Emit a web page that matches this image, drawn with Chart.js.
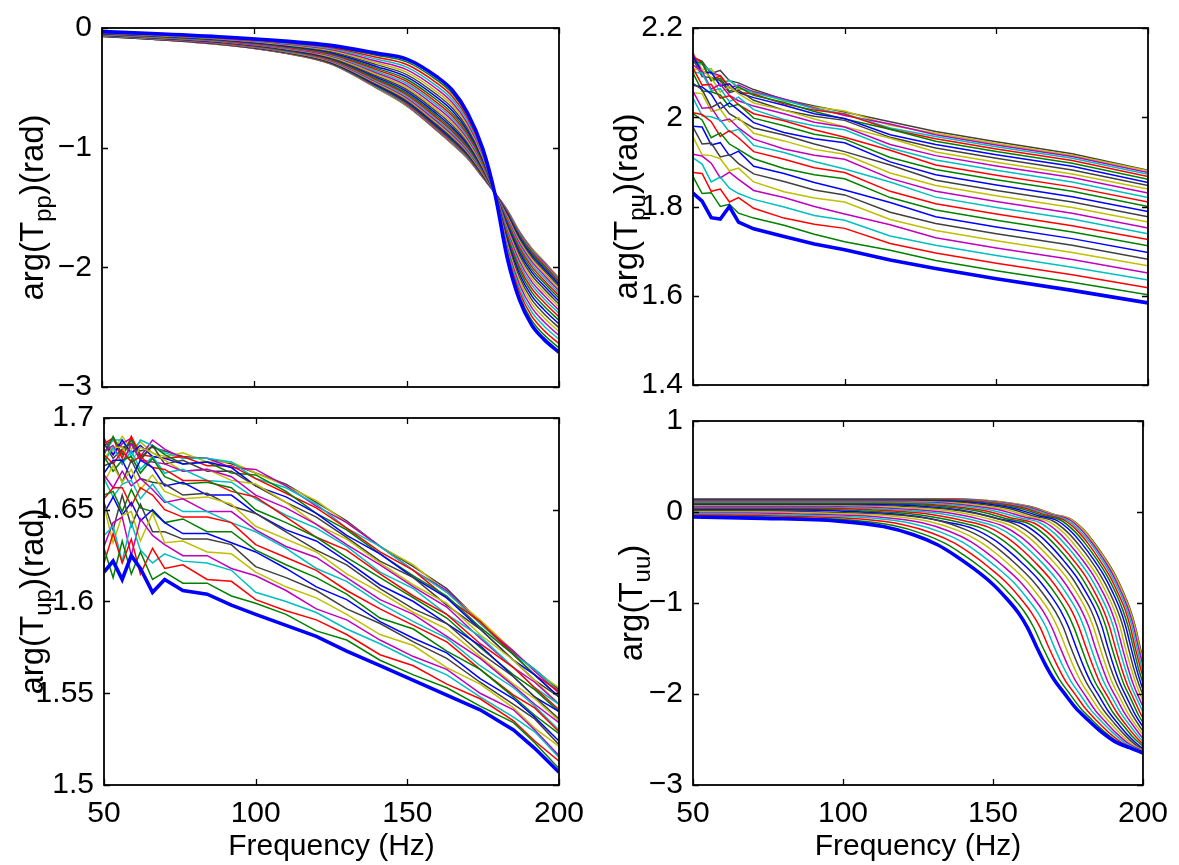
<!DOCTYPE html>
<html><head><meta charset="utf-8">
<script src="https://cdn.jsdelivr.net/npm/chart.js@4.4.1/dist/chart.umd.min.js"></script>
<style>
html,body{margin:0;padding:0;background:#fff;}
#wrap{position:relative;width:1179px;height:865px;overflow:hidden;background:#fff;}
canvas{position:absolute;left:0;top:0;}
</style></head><body>
<div id="wrap">
<canvas id="cTL" width="1179" height="865"></canvas>
<canvas id="cTR" width="1179" height="865"></canvas>
<canvas id="cBL" width="1179" height="865"></canvas>
<canvas id="cBR" width="1179" height="865"></canvas>
</div>
<script>
const lineColors = ['#0000FF','#008000','#FF0000','#00BFBF','#BF00BF','#BFBF00','#404040'];
const xTicks = [50,100,150,200];
const yTicksTpp = [-3,-2,-1,0];
const yTicksTpu = [1.4,1.6,1.8,2,2.2];
const yTicksTup = [1.5,1.55,1.6,1.65,1.7];
const yTicksTuu = [-3,-2,-1,0,1];

// ---- arg(T_pp) ----
const freqTpp = [50,70,90,110,125,140,150,160,165,170,175,179,183,187,191,195,200];
const argTpp = [
[-.030,-.050,-.075,-.110,-.145,-.210,-.260,-.410,-.520,-.710,-1.010,-1.390,-1.920,-2.270,-2.480,-2.600,-2.710],
[-.032,-.053,-.079,-.116,-.154,-.227,-.283,-.437,-.547,-.732,-1.024,-1.389,-1.896,-2.236,-2.442,-2.562,-2.673],
[-.035,-.056,-.083,-.122,-.163,-.244,-.305,-.462,-.572,-.754,-1.038,-1.389,-1.874,-2.204,-2.406,-2.525,-2.638],
[-.037,-.059,-.086,-.127,-.172,-.260,-.327,-.487,-.597,-.775,-1.051,-1.388,-1.851,-2.172,-2.370,-2.488,-2.603],
[-.039,-.061,-.090,-.133,-.180,-.276,-.348,-.512,-.622,-.796,-1.064,-1.388,-1.830,-2.141,-2.335,-2.453,-2.570],
[-.041,-.064,-.093,-.138,-.188,-.291,-.369,-.536,-.646,-.816,-1.077,-1.387,-1.808,-2.111,-2.301,-2.419,-2.537],
[-.043,-.067,-.097,-.143,-.196,-.306,-.389,-.559,-.669,-.836,-1.089,-1.387,-1.788,-2.081,-2.268,-2.385,-2.505],
[-.045,-.069,-.100,-.148,-.204,-.321,-.409,-.582,-.692,-.855,-1.101,-1.386,-1.768,-2.053,-2.236,-2.352,-2.474],
[-.047,-.072,-.103,-.153,-.212,-.335,-.428,-.604,-.714,-.873,-1.113,-1.386,-1.748,-2.025,-2.205,-2.321,-2.443],
[-.049,-.074,-.106,-.158,-.219,-.348,-.446,-.625,-.735,-.891,-1.125,-1.385,-1.729,-1.998,-2.175,-2.290,-2.414],
[-.051,-.076,-.109,-.162,-.226,-.362,-.464,-.645,-.755,-.909,-1.136,-1.385,-1.711,-1.972,-2.145,-2.260,-2.386],
[-.053,-.078,-.112,-.167,-.233,-.374,-.481,-.665,-.775,-.926,-1.146,-1.384,-1.693,-1.947,-2.117,-2.231,-2.359],
[-.054,-.081,-.115,-.171,-.240,-.387,-.498,-.685,-.795,-.942,-1.156,-1.384,-1.676,-1.922,-2.090,-2.204,-2.332],
[-.056,-.083,-.117,-.175,-.246,-.399,-.514,-.703,-.813,-.957,-1.166,-1.384,-1.660,-1.900,-2.064,-2.178,-2.307],
[-.058,-.085,-.120,-.179,-.252,-.410,-.529,-.721,-.831,-.972,-1.176,-1.383,-1.644,-1.877,-2.038,-2.152,-2.282],
[-.059,-.086,-.122,-.183,-.258,-.421,-.544,-.737,-.847,-.986,-1.185,-1.383,-1.629,-1.856,-2.015,-2.127,-2.259],
[-.060,-.088,-.125,-.186,-.263,-.431,-.557,-.753,-.863,-1.000,-1.193,-1.382,-1.615,-1.836,-1.992,-2.105,-2.238],
[-.062,-.090,-.127,-.190,-.268,-.441,-.570,-.768,-.878,-1.013,-1.201,-1.382,-1.602,-1.816,-1.971,-2.083,-2.217],
[-.063,-.091,-.129,-.193,-.273,-.450,-.583,-.783,-.893,-1.025,-1.209,-1.382,-1.589,-1.798,-1.950,-2.062,-2.197],
[-.064,-.093,-.131,-.196,-.278,-.459,-.594,-.796,-.906,-1.036,-1.216,-1.381,-1.577,-1.782,-1.932,-2.043,-2.179],
[-.065,-.094,-.133,-.199,-.282,-.467,-.605,-.808,-.918,-1.046,-1.222,-1.381,-1.566,-1.766,-1.914,-2.025,-2.161],
[-.066,-.096,-.134,-.201,-.286,-.474,-.615,-.820,-.930,-1.056,-1.228,-1.381,-1.556,-1.751,-1.898,-2.009,-2.146],
[-.067,-.097,-.136,-.203,-.290,-.481,-.624,-.830,-.940,-1.065,-1.234,-1.381,-1.547,-1.738,-1.883,-1.994,-2.132],
[-.068,-.098,-.137,-.205,-.293,-.486,-.632,-.839,-.949,-1.072,-1.239,-1.380,-1.539,-1.727,-1.870,-1.981,-2.119],
[-.069,-.099,-.138,-.207,-.295,-.491,-.638,-.847,-.957,-1.079,-1.243,-1.380,-1.532,-1.717,-1.859,-1.970,-2.109],
[-.069,-.099,-.139,-.208,-.298,-.495,-.644,-.853,-.963,-1.084,-1.246,-1.380,-1.526,-1.709,-1.850,-1.960,-2.100],
[-.070,-.100,-.140,-.210,-.299,-.499,-.648,-.858,-.968,-1.088,-1.249,-1.380,-1.522,-1.703,-1.843,-1.953,-2.093],
[-.070,-.100,-.140,-.210,-.300,-.500,-.650,-.860,-.970,-1.090,-1.250,-1.380,-1.520,-1.700,-1.840,-1.950,-2.090]
];

// ---- arg(T_pu) ----
const freqTpu = [50,53,56,59,62,65,70,80,90,100,115,130,150,175,200];
const argTpu = [
[1.830,1.812,1.775,1.772,1.800,1.765,1.750,1.733,1.716,1.703,1.680,1.661,1.638,1.612,1.584],
[1.867,1.829,1.831,1.800,1.805,1.785,1.774,1.758,1.738,1.721,1.702,1.679,1.656,1.630,1.602],
[1.876,1.874,1.834,1.839,1.810,1.820,1.796,1.774,1.760,1.751,1.717,1.696,1.673,1.647,1.618],
[1.909,1.895,1.855,1.866,1.841,1.829,1.816,1.799,1.780,1.769,1.734,1.713,1.690,1.664,1.635],
[1.917,1.913,1.897,1.864,1.877,1.861,1.836,1.820,1.800,1.783,1.759,1.730,1.707,1.681,1.651],
[1.956,1.916,1.914,1.907,1.880,1.886,1.855,1.833,1.819,1.810,1.771,1.746,1.723,1.697,1.667],
[1.978,1.940,1.942,1.911,1.916,1.896,1.873,1.856,1.837,1.826,1.787,1.762,1.739,1.713,1.682],
[1.980,1.978,1.938,1.943,1.914,1.924,1.890,1.874,1.854,1.837,1.809,1.777,1.754,1.728,1.697],
[2.008,1.994,1.954,1.965,1.940,1.928,1.907,1.885,1.871,1.862,1.820,1.792,1.769,1.743,1.712],
[2.010,2.006,1.990,1.957,1.970,1.954,1.923,1.906,1.887,1.876,1.834,1.806,1.783,1.757,1.726],
[2.043,2.003,2.001,1.994,1.967,1.973,1.937,1.921,1.901,1.884,1.855,1.821,1.798,1.772,1.739],
[2.058,2.020,2.022,1.991,1.996,1.976,1.951,1.929,1.915,1.906,1.863,1.834,1.811,1.785,1.752],
[2.055,2.053,2.013,2.018,1.989,1.999,1.964,1.947,1.928,1.917,1.875,1.847,1.824,1.798,1.765],
[2.076,2.062,2.022,2.033,2.008,1.996,1.976,1.960,1.940,1.923,1.893,1.859,1.836,1.810,1.777],
[2.072,2.068,2.052,2.019,2.032,2.016,1.988,1.966,1.952,1.943,1.900,1.871,1.848,1.822,1.789],
[2.099,2.059,2.057,2.050,2.023,2.029,1.998,1.981,1.962,1.951,1.910,1.883,1.860,1.834,1.800],
[2.110,2.072,2.074,2.043,2.048,2.028,2.008,1.992,1.972,1.955,1.926,1.893,1.870,1.844,1.810],
[2.101,2.099,2.059,2.064,2.035,2.045,2.017,1.995,1.981,1.972,1.931,1.904,1.881,1.855,1.820],
[2.117,2.103,2.063,2.074,2.049,2.037,2.025,2.008,1.989,1.978,1.939,1.914,1.891,1.865,1.830],
[2.109,2.105,2.089,2.056,2.069,2.053,2.032,2.016,1.996,1.979,1.953,1.922,1.899,1.873,1.839],
[2.131,2.091,2.089,2.082,2.055,2.061,2.038,2.016,2.002,1.993,1.955,1.931,1.908,1.882,1.847],
[2.137,2.099,2.101,2.070,2.075,2.055,2.044,2.027,2.008,1.997,1.961,1.939,1.916,1.890,1.854],
[2.124,2.122,2.082,2.087,2.058,2.068,2.049,2.033,2.013,1.996,1.973,1.946,1.923,1.897,1.861],
[2.136,2.122,2.082,2.093,2.068,2.056,2.052,2.030,2.016,2.007,1.973,1.952,1.929,1.903,1.867],
[2.123,2.119,2.103,2.070,2.083,2.067,2.055,2.038,2.019,2.008,1.976,1.957,1.934,1.908,1.872],
[2.142,2.102,2.100,2.093,2.066,2.072,2.057,2.041,2.021,2.004,1.985,1.961,1.938,1.912,1.876],
[2.145,2.107,2.109,2.078,2.083,2.063,2.059,2.037,2.023,2.014,1.982,1.964,1.941,1.915,1.880],
[2.135,2.125,2.098,2.105,2.082,2.077,2.062,2.040,2.025,2.012,1.990,1.968,1.945,1.918,1.881]
];

// ---- arg(T_up) ----
const freqTup = [50,53,56,59,62,66,70,76,84,92,100,110,120,130,141,152,163,174,185,192,200];
const argTup = [
[1.616,1.622,1.612,1.625,1.618,1.605,1.612,1.606,1.604,1.598,1.593,1.587,1.581,1.573,1.565,1.557,1.549,1.541,1.530,1.520,1.507],
[1.629,1.613,1.633,1.615,1.627,1.612,1.616,1.610,1.610,1.603,1.599,1.593,1.584,1.579,1.568,1.560,1.553,1.543,1.534,1.523,1.509],
[1.621,1.637,1.621,1.634,1.615,1.629,1.618,1.620,1.612,1.611,1.601,1.595,1.590,1.582,1.571,1.565,1.555,1.547,1.535,1.524,1.513],
[1.636,1.641,1.622,1.643,1.628,1.621,1.626,1.622,1.621,1.617,1.605,1.600,1.594,1.585,1.577,1.568,1.560,1.548,1.537,1.529,1.515],
[1.630,1.643,1.646,1.625,1.645,1.636,1.631,1.625,1.625,1.618,1.614,1.606,1.596,1.590,1.579,1.570,1.563,1.550,1.541,1.530,1.516],
[1.652,1.632,1.647,1.649,1.633,1.648,1.632,1.633,1.627,1.626,1.616,1.608,1.602,1.593,1.582,1.576,1.564,1.555,1.542,1.531,1.521],
[1.654,1.639,1.658,1.641,1.653,1.638,1.638,1.634,1.634,1.631,1.619,1.613,1.606,1.596,1.588,1.578,1.569,1.556,1.544,1.536,1.522],
[1.648,1.657,1.647,1.654,1.644,1.650,1.643,1.637,1.637,1.632,1.627,1.618,1.608,1.601,1.589,1.580,1.572,1.558,1.547,1.537,1.524],
[1.658,1.660,1.649,1.661,1.651,1.649,1.643,1.645,1.638,1.638,1.628,1.620,1.613,1.604,1.591,1.585,1.573,1.563,1.548,1.538,1.528],
[1.656,1.662,1.662,1.652,1.662,1.658,1.650,1.646,1.646,1.643,1.631,1.624,1.617,1.606,1.596,1.587,1.578,1.563,1.549,1.542,1.529],
[1.667,1.657,1.664,1.666,1.656,1.664,1.655,1.649,1.649,1.643,1.638,1.629,1.618,1.611,1.599,1.589,1.580,1.565,1.553,1.543,1.530],
[1.669,1.662,1.671,1.663,1.667,1.661,1.654,1.656,1.649,1.649,1.639,1.630,1.624,1.613,1.601,1.593,1.581,1.569,1.554,1.544,1.534],
[1.665,1.674,1.665,1.672,1.661,1.669,1.660,1.656,1.657,1.653,1.641,1.634,1.627,1.615,1.605,1.594,1.585,1.570,1.555,1.547,1.535],
[1.674,1.676,1.665,1.677,1.667,1.665,1.664,1.658,1.659,1.652,1.648,1.638,1.628,1.620,1.607,1.596,1.588,1.572,1.559,1.548,1.536],
[1.670,1.677,1.677,1.667,1.677,1.673,1.663,1.665,1.658,1.658,1.648,1.639,1.633,1.622,1.609,1.600,1.588,1.576,1.559,1.548,1.540],
[1.679,1.671,1.677,1.679,1.670,1.678,1.668,1.664,1.665,1.662,1.650,1.643,1.635,1.624,1.613,1.602,1.591,1.575,1.560,1.552,1.540],
[1.680,1.675,1.682,1.676,1.679,1.673,1.672,1.666,1.666,1.660,1.657,1.646,1.635,1.628,1.615,1.603,1.593,1.577,1.564,1.553,1.541],
[1.676,1.684,1.675,1.682,1.672,1.679,1.670,1.672,1.666,1.665,1.656,1.647,1.640,1.630,1.616,1.607,1.593,1.581,1.564,1.553,1.544],
[1.682,1.685,1.675,1.686,1.677,1.676,1.675,1.671,1.672,1.668,1.658,1.651,1.642,1.631,1.620,1.608,1.597,1.580,1.564,1.556,1.544],
[1.678,1.684,1.684,1.676,1.684,1.681,1.677,1.671,1.672,1.666,1.664,1.654,1.642,1.634,1.621,1.609,1.599,1.582,1.568,1.557,1.544],
[1.686,1.678,1.683,1.686,1.677,1.685,1.675,1.677,1.671,1.671,1.663,1.654,1.646,1.635,1.622,1.613,1.598,1.585,1.568,1.557,1.548],
[1.686,1.680,1.688,1.681,1.685,1.679,1.678,1.675,1.676,1.673,1.663,1.657,1.648,1.636,1.626,1.613,1.602,1.585,1.568,1.560,1.548],
[1.680,1.690,1.680,1.688,1.678,1.685,1.680,1.675,1.676,1.670,1.669,1.660,1.648,1.639,1.626,1.614,1.603,1.586,1.571,1.560,1.548],
[1.686,1.689,1.678,1.690,1.680,1.679,1.678,1.679,1.674,1.674,1.667,1.659,1.651,1.640,1.627,1.617,1.602,1.589,1.571,1.560,1.551],
[1.681,1.688,1.688,1.679,1.688,1.685,1.681,1.678,1.678,1.676,1.667,1.662,1.653,1.640,1.630,1.617,1.605,1.588,1.571,1.563,1.551],
[1.689,1.680,1.686,1.689,1.679,1.688,1.683,1.678,1.678,1.673,1.672,1.663,1.652,1.643,1.630,1.617,1.606,1.588,1.573,1.562,1.550],
[1.688,1.682,1.690,1.683,1.687,1.681,1.679,1.681,1.676,1.676,1.670,1.663,1.655,1.643,1.630,1.620,1.605,1.590,1.573,1.562,1.553],
[1.685,1.688,1.684,1.686,1.682,1.684,1.682,1.679,1.678,1.675,1.670,1.664,1.654,1.644,1.630,1.619,1.607,1.589,1.572,1.563,1.552]
];

// ---- arg(T_uu) : each trace has its own frequency samples ----
const freqTuu = [
[50,73.5,98.5,113.5,123.5,131.5,137.5,143.5,149.5,154.5,158.5,161.5,164.5,167.5,170.5,173.5,177.5,181.5,185.5,190.5,195.5,200.5],
[50,55.0,77.9,102.3,116.9,126.6,134.4,140.2,146.1,151.9,156.8,160.7,163.6,166.5,169.5,172.4,175.3,179.2,183.1,187.0,191.9,196.7,201.6],
[50,59.9,82.2,105.9,120.1,129.6,137.2,142.9,148.6,154.3,159.0,162.8,165.7,168.5,171.4,174.2,177.1,180.9,184.6,188.4,193.2,197.9,202.7],
[50,64.7,86.4,109.5,123.3,132.6,140.0,145.5,151.0,156.6,161.2,164.9,167.7,170.4,173.2,176.0,178.8,182.5,186.2,189.9,194.5,199.1,203.7],
[50,69.2,90.3,112.8,126.4,135.4,142.6,148.0,153.4,158.8,163.3,166.9,169.6,172.3,175.0,177.7,180.4,184.0,187.6,191.2,195.7,200.2],
[50,73.7,94.3,116.3,129.4,138.2,145.2,150.5,155.7,161.0,165.4,168.9,171.5,174.2,176.8,179.4,182.0,185.6,189.1,192.6,197.0,201.3],
[50,78.2,98.2,119.6,132.4,140.9,147.8,152.9,158.0,163.1,167.4,170.8,173.4,175.9,178.5,181.1,183.6,187.1,190.5,193.9,198.2,202.4],
[50,82.4,102.0,122.8,135.2,143.6,150.2,155.2,160.2,165.2,169.4,172.7,175.2,177.7,180.2,182.7,185.2,188.5,191.8,195.1,199.3,203.5],
[50,86.5,105.6,125.8,138.0,146.1,152.6,157.5,162.3,167.2,171.3,174.5,176.9,179.4,181.8,184.2,186.7,189.9,193.2,196.4,200.5],
[50,90.5,109.1,128.9,140.7,148.6,154.9,159.7,164.4,169.1,173.1,176.3,178.6,181.0,183.4,185.7,188.1,191.3,194.4,197.6,201.5],
[50,94.4,112.5,131.8,143.3,151.0,157.2,161.8,166.4,171.0,174.9,178.0,180.3,182.6,184.9,187.2,189.5,192.6,195.7,198.8,202.6],
[50,98.1,115.8,134.5,145.8,153.3,159.3,163.8,168.3,172.8,176.6,179.6,181.9,184.1,186.4,188.6,190.9,193.9,196.9,199.9,203.6],
[50,101.8,119.0,137.3,148.3,155.6,161.4,165.8,170.2,174.6,178.3,181.2,183.4,185.6,187.8,190.0,192.2,195.1,198.0,201.0],
[50,105.2,122.0,139.8,150.6,157.7,163.4,167.7,172.0,176.3,179.8,182.7,184.8,187.0,189.1,191.3,193.4,196.3,199.1,202.0],
[50,108.7,125.0,142.4,152.9,159.8,165.4,169.6,173.7,177.9,181.4,184.2,186.3,188.3,190.4,192.5,194.6,197.4,200.2],
[50,111.8,127.8,144.8,155.0,161.8,167.2,171.3,175.4,179.4,182.8,185.6,187.6,189.6,191.7,193.7,195.8,198.5,201.2],
[50,114.7,130.3,146.9,156.9,163.6,168.9,172.9,176.9,180.9,184.2,186.8,188.8,190.8,192.8,194.8,196.8,199.5,202.1],
[50,117.6,132.9,149.1,158.9,165.4,170.6,174.5,178.4,182.3,185.5,188.1,190.1,192.0,194.0,195.9,197.9,200.5],
[50,120.3,135.2,151.1,160.7,167.0,172.1,175.9,179.8,183.6,186.8,189.3,191.2,193.1,195.0,196.9,198.8,201.4],
[50,122.8,137.4,153.0,162.4,168.6,173.6,177.3,181.0,184.8,187.9,190.4,192.3,194.1,196.0,197.9,199.7,202.2],
[50,125.1,139.5,154.8,163.9,170.0,174.9,178.6,182.3,185.9,189.0,191.4,193.3,195.1,196.9,198.8,200.6],
[50,127.3,141.4,156.4,165.4,171.4,176.2,179.8,183.4,187.0,190.0,192.4,194.2,196.0,197.8,199.6,201.4],
[50,129.3,143.2,157.9,166.7,172.6,177.3,180.9,184.4,187.9,190.9,193.2,195.0,196.8,198.5,200.3],
[50,130.9,144.6,159.1,167.8,173.6,178.3,181.8,185.2,188.7,191.6,194.0,195.7,197.4,199.2,200.9],
[50,132.4,145.9,160.2,168.8,174.5,179.1,182.6,186.0,189.4,192.3,194.6,196.3,198.0,199.7,201.5],
[50,133.6,146.9,161.1,169.6,175.3,179.8,183.2,186.6,190.0,192.8,195.1,196.8,198.5,200.2],
[50,134.5,147.8,161.8,170.2,175.9,180.4,183.7,187.1,190.5,193.3,195.5,197.2,198.9,200.6],
[50,134.9,148.1,162.1,170.5,176.1,180.6,183.9,187.3,190.7,193.5,195.7,197.4,199.1,200.7]
];
const argTuu = [
[-.055,-.07,-.10,-.16,-.25,-.36,-.48,-.62,-.78,-.95,-1.11,-1.27,-1.48,-1.68,-1.85,-1.98,-2.15,-2.28,-2.40,-2.52,-2.59,-2.655],
[-.043,-.043,-.058,-.088,-.149,-.240,-.351,-.472,-.613,-.774,-.946,-1.107,-1.269,-1.481,-1.682,-1.854,-1.985,-2.157,-2.288,-2.409,-2.530,-2.601,-2.666],
[-.032,-.032,-.047,-.078,-.139,-.230,-.342,-.464,-.607,-.769,-.942,-1.105,-1.268,-1.481,-1.685,-1.858,-1.990,-2.163,-2.295,-2.417,-2.539,-2.610,-2.676],
[-.021,-.021,-.037,-.067,-.129,-.221,-.334,-.457,-.600,-.764,-.939,-1.103,-1.267,-1.482,-1.687,-1.861,-1.995,-2.169,-2.302,-2.425,-2.548,-2.620,-2.687],
[-.010,-.010,-.026,-.057,-.119,-.212,-.325,-.449,-.594,-.759,-.935,-1.100,-1.266,-1.483,-1.689,-1.865,-1.999,-2.175,-2.309,-2.433,-2.557,-2.630],
[.001,.001,-.015,-.046,-.109,-.202,-.317,-.442,-.588,-.754,-.931,-1.098,-1.265,-1.483,-1.692,-1.869,-2.004,-2.181,-2.317,-2.442,-2.567,-2.639],
[.011,.011,-.005,-.036,-.099,-.194,-.309,-.435,-.582,-.750,-.928,-1.096,-1.264,-1.484,-1.694,-1.872,-2.008,-2.187,-2.323,-2.449,-2.575,-2.648],
[.021,.021,.005,-.042,-.115,-.185,-.302,-.428,-.576,-.745,-.925,-1.094,-1.263,-1.485,-1.696,-1.875,-2.013,-2.192,-2.330,-2.456,-2.583,-2.657],
[.031,.031,.015,-.032,-.106,-.177,-.294,-.421,-.570,-.741,-.921,-1.092,-1.262,-1.485,-1.698,-1.879,-2.017,-2.198,-2.336,-2.464,-2.591],
[.040,.040,.024,-.024,-.098,-.169,-.287,-.415,-.565,-.736,-.918,-1.090,-1.261,-1.486,-1.700,-1.882,-2.021,-2.203,-2.342,-2.470,-2.599],
[.050,.050,.033,-.014,-.089,-.161,-.279,-.409,-.559,-.732,-.915,-1.087,-1.260,-1.486,-1.702,-1.885,-2.025,-2.208,-2.349,-2.478,-2.607],
[.058,.058,.041,-.006,-.081,-.154,-.273,-.403,-.555,-.728,-.912,-1.086,-1.259,-1.487,-1.703,-1.888,-2.029,-2.213,-2.354,-2.484,-2.614],
[.067,.067,.050,.003,-.073,-.146,-.266,-.397,-.550,-.724,-.909,-1.084,-1.258,-1.487,-1.705,-1.891,-2.033,-2.218,-2.360,-2.490],
[.075,.075,.058,.010,-.066,-.139,-.260,-.392,-.545,-.720,-.907,-1.082,-1.258,-1.488,-1.707,-1.893,-2.036,-2.222,-2.365,-2.496],
[.083,.083,.066,.003,-.083,-.132,-.254,-.386,-.540,-.717,-.904,-1.080,-1.257,-1.488,-1.709,-1.896,-2.039,-2.227,-2.370],
[.090,.090,.073,.010,-.077,-.127,-.248,-.381,-.536,-.713,-.902,-1.079,-1.256,-1.489,-1.710,-1.898,-2.042,-2.231,-2.375],
[.097,.097,.080,.016,-.070,-.121,-.243,-.377,-.532,-.710,-.899,-1.077,-1.255,-1.489,-1.712,-1.901,-2.045,-2.235,-2.379],
[.104,.104,.087,.023,-.064,-.115,-.238,-.372,-.528,-.707,-.897,-1.076,-1.255,-1.489,-1.713,-1.903,-2.048,-2.238],
[.111,.111,.094,.030,-.057,-.109,-.232,-.367,-.524,-.704,-.895,-1.074,-1.254,-1.490,-1.714,-1.905,-2.051,-2.242],
[.116,.116,.098,.035,-.053,-.104,-.228,-.364,-.521,-.702,-.893,-1.073,-1.254,-1.490,-1.715,-1.907,-2.054,-2.245],
[.122,.122,.104,.041,-.047,-.099,-.224,-.360,-.518,-.699,-.891,-1.072,-1.253,-1.490,-1.717,-1.909,-2.056],
[.127,.127,.109,.045,-.043,-.095,-.220,-.356,-.515,-.697,-.889,-1.071,-1.253,-1.491,-1.718,-1.911,-2.058],
[.132,.132,.114,.050,-.038,-.091,-.216,-.353,-.512,-.694,-.888,-1.070,-1.252,-1.491,-1.719,-1.912],
[.136,.136,.118,.054,-.034,-.087,-.213,-.350,-.510,-.692,-.886,-1.069,-1.252,-1.491,-1.720,-1.914],
[.139,.139,.121,.057,-.032,-.085,-.211,-.348,-.508,-.691,-.885,-1.068,-1.251,-1.491,-1.720,-1.915],
[.142,.142,.124,.060,-.029,-.082,-.208,-.346,-.506,-.690,-.884,-1.068,-1.251,-1.492,-1.721],
[.144,.144,.126,.062,-.027,-.080,-.207,-.345,-.505,-.689,-.884,-1.067,-1.251,-1.492,-1.721],
[.145,.145,.127,.063,-.026,-.080,-.206,-.344,-.504,-.688,-.883,-1.067,-1.251,-1.492,-1.721]
];

const W = 1179, H = 865;
const FONT = '"Liberation Sans", Arial, Helvetica, sans-serif';

function fmt(v){
  const s = String(Math.round(v*1000)/1000);
  return s.replace('-', '\u2212');
}
function pairs(fx, fy){
  const n = Math.min(fx.length, fy.length);
  const out = [];
  for (let i = 0; i < n; i++) out.push({x: fx[i], y: fy[i]});
  return out;
}
function makeDatasets(freqOf, series, smooth){
  return series.map((vals, k) => ({
    data: pairs(freqOf(k), vals),
    borderColor: lineColors[k % lineColors.length],
    borderWidth: k === 0 ? 3.6 : 1.5,
    pointRadius: 0,
    fill: false,
    tension: 0,
    cubicInterpolationMode: smooth ? 'monotone' : 'default'
  }));
}

function framePlugin(p){
  return {
    id: 'frame_' + p.id,
    afterDraw(chart){
      const ctx = chart.ctx, a = chart.chartArea;
      const xs = chart.scales.x, ys = chart.scales.y;
      ctx.save();
      ctx.strokeStyle = '#000';
      ctx.lineWidth = 1.3;
      const tl = 6;
      ctx.beginPath();
      for (const v of xTicks){
        const px = Math.round(xs.getPixelForValue(v)) + 0.5;
        ctx.moveTo(px, a.bottom); ctx.lineTo(px, a.bottom - tl);
        ctx.moveTo(px, a.top); ctx.lineTo(px, a.top + tl);
      }
      for (const v of p.yt){
        const py = Math.round(ys.getPixelForValue(v)) + 0.5;
        ctx.moveTo(a.left, py); ctx.lineTo(a.left + tl, py);
        ctx.moveTo(a.right, py); ctx.lineTo(a.right - tl, py);
      }
      ctx.stroke();
      ctx.lineWidth = 1.8;
      ctx.strokeRect(a.left, a.top, a.right - a.left, a.bottom - a.top);

      // y label with subscript, rotated
      ctx.fillStyle = '#000';
      ctx.textBaseline = 'alphabetic';
      ctx.textAlign = 'left';
      const parts = [
        {t: p.lab[0], s: 33, dy: 0},
        {t: p.lab[1], s: 24, dy: 8},
        {t: p.lab[2], s: 33, dy: 0}
      ];
      let total = 0;
      for (const q of parts){ ctx.font = q.s + 'px ' + FONT; q.w = ctx.measureText(q.t).width; total += q.w; }
      ctx.translate(p.lx, (a.top + a.bottom) / 2);
      ctx.rotate(-Math.PI / 2);
      let cx = -total / 2;
      for (const q of parts){ ctx.font = q.s + 'px ' + FONT; ctx.fillText(q.t, cx, q.dy); cx += q.w; }
      ctx.setTransform(1,0,0,1,0,0);

      if (p.showX){
        ctx.font = '30px ' + FONT;
        ctx.textAlign = 'center';
        ctx.textBaseline = 'alphabetic';
        ctx.fillText('Frequency (Hz)', (a.left + a.right) / 2, 855);
      }
      ctx.restore();
    }
  };
}

function panel(p){
  const box = p.box;
  new Chart(document.getElementById(p.id), {
    type: 'line',
    data: {datasets: p.datasets},
    options: {
      responsive: false, animation: false, devicePixelRatio: 1,
      layout: {padding: {left: 0, top: box.t, right: W - box.r, bottom: 0}},
      plugins: {legend: {display: false}, tooltip: {enabled: false}},
      elements: {point: {radius: 0}},
      scales: {
        x: {
          type: 'linear', min: 50, max: 200,
          afterBuildTicks: s => { s.ticks = xTicks.map(v => ({value: v})); },
          afterFit: s => { s.height = H - box.b; },
          grid: {display: false, drawTicks: false}, border: {display: false},
          ticks: {display: p.showX, autoSkip: false, maxRotation: 0, padding: 11, color: '#000',
                  font: {family: FONT, size: 30}, callback: v => fmt(v)}
        },
        y: {
          type: 'linear', min: p.y[0], max: p.y[1],
          afterBuildTicks: s => { s.ticks = p.yt.map(v => ({value: v})); },
          afterFit: s => { s.width = box.l; },
          grid: {display: false, drawTicks: false}, border: {display: false},
          ticks: {autoSkip: false, padding: 10, color: '#000',
                  font: {family: FONT, size: 30}, callback: v => fmt(v)}
        }
      }
    },
    plugins: [framePlugin(p)]
  });
}

panel({id: 'cTL', box: {l: 102, t: 26, r: 559, b: 387}, y: [-3, 0], yt: yTicksTpp, showX: false,
       lab: ['arg(T', 'pp', ')(rad)'], lx: 43,
       datasets: makeDatasets(() => freqTpp, argTpp, true)});
panel({id: 'cTR', box: {l: 693, t: 22, r: 1148, b: 385}, y: [1.4, 2.2], yt: yTicksTpu, showX: false,
       lab: ['arg(T', 'pu', ')(rad)'], lx: 637,
       datasets: makeDatasets(() => freqTpu, argTpu, false)});
panel({id: 'cBL', box: {l: 104, t: 418, r: 559, b: 785}, y: [1.5, 1.7], yt: yTicksTup, showX: true,
       lab: ['arg(T', 'up', ')(rad)'], lx: 43,
       datasets: makeDatasets(() => freqTup, argTup, false)});
panel({id: 'cBR', box: {l: 693, t: 421, r: 1149, b: 785}, y: [-3, 1], yt: yTicksTuu, showX: true,
       lab: ['arg(T', 'uu', ')'], lx: 642,
       datasets: makeDatasets(k => freqTuu[k], argTuu, true)});
</script>
</body></html>
